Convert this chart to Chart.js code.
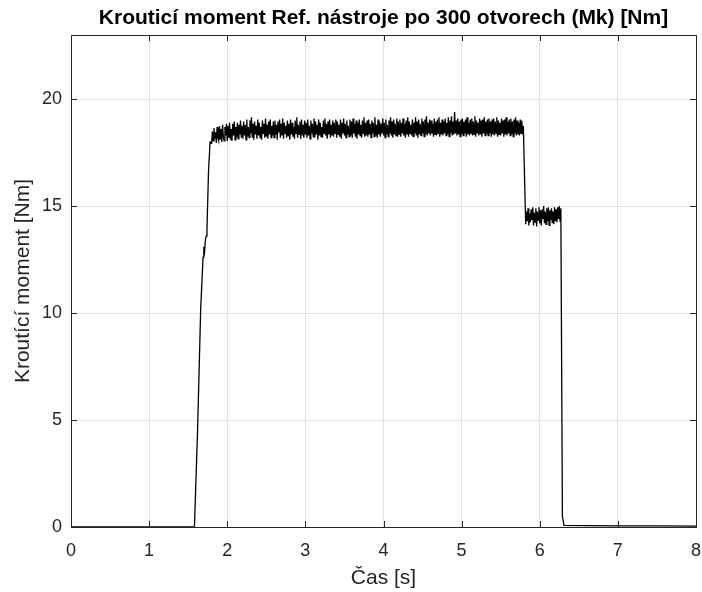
<!DOCTYPE html>
<html>
<head>
<meta charset="utf-8">
<script src="https://cdn.jsdelivr.net/npm/chart.js@4.4.1/dist/chart.umd.min.js"></script>
<style>
  html, body { margin: 0; padding: 0; background: #fff; }
  #wrap { width: 702px; height: 592px; }
</style>
</head>
<body>
<div id="wrap"><canvas id="torqueChart" width="702" height="592"></canvas></div>
<script>
var chartTitle = 'Krouticí moment Ref. nástroje po 300 otvorech (Mk) [Nm]';

// tick labels
var xTickValues = [0, 1, 2, 3, 4, 5, 6, 7, 8];
var yTickValues = [0, 5, 10, 15, 20];

// idle + spindle ramp-up
var riseTimes  = [0, 1.58, 1.62, 1.66, 1.69, 1.70, 1.71, 1.72, 1.73, 1.74, 1.76, 1.78];
var riseTorque = [0, 0, 4.5, 10.2, 12.6, 13.1, 12.9, 13.4, 13.6, 13.9, 16.6, 18.0];

// full cut, sampled every 0.01 s from 1.80 s
var sampleStep = 0.01;
var cutStart = 1.80;
var cutTorque = [
  17.95, 18.5, 18.05, 18.65, 18.15, 18.45, 17.95, 18.7, 18.2, 18.05, 18.75, 18.1, 18.6, 18.0, 18.8, 18.25, 18.05, 18.7, 18.3, 18.85,
  18.05, 18.75, 18.2, 18.9, 18.1, 18.6, 18.05, 18.85, 18.3, 18.95, 18.1, 18.7, 18.2, 18.9, 18.15, 18.8, 18.35, 19.0, 18.2, 18.75,
  18.15, 18.95, 18.3, 18.8, 18.1, 19.05, 18.25, 18.7, 18.2, 19.0, 18.4, 19.15, 18.2, 18.85, 18.1, 18.95, 18.35, 18.75, 18.15, 19.05,
  18.3, 18.9, 18.2, 18.7, 18.1, 19.0, 18.4, 18.85, 18.2, 19.1, 18.25, 18.8, 18.15, 18.95, 18.35, 19.05, 18.2, 18.75, 18.3, 18.95,
  18.2, 19.0, 18.35, 18.8, 18.1, 18.95, 18.45, 19.05, 18.2, 18.85, 18.3, 19.1, 18.15, 18.9, 18.4, 18.75, 18.2, 19.0, 18.3, 18.85,
  18.1, 19.05, 18.35, 18.9, 18.25, 18.7, 18.15, 19.0, 18.4, 19.15, 18.2, 18.8, 18.35, 18.95, 18.15, 19.05, 18.3, 18.8, 18.2, 19.0,
  18.35, 18.9, 18.2, 19.05, 18.3, 18.75, 18.15, 19.0, 18.4, 18.85, 18.25, 19.1, 18.2, 18.95, 18.35, 18.8, 18.1, 19.05, 18.3, 18.9,
  18.25, 18.7, 18.2, 19.0, 18.4, 19.1, 18.3, 18.85, 18.15, 18.95, 18.35, 19.05, 18.2, 18.8, 18.3, 19.0, 18.25, 18.9, 18.4, 19.05,
  18.2, 18.95, 18.35, 18.8, 18.25, 19.05, 18.15, 18.9, 18.4, 19.1, 18.3, 18.85, 18.2, 19.0, 18.35, 18.75, 18.25, 19.05, 18.3, 18.95,
  18.2, 19.1, 18.4, 18.85, 18.25, 19.0, 18.15, 18.9, 18.35, 19.05, 18.3, 18.8, 18.2, 19.0, 18.4, 19.15, 18.25, 18.9, 18.3, 19.0,
  18.25, 19.05, 18.35, 18.85, 18.2, 19.0, 18.4, 18.9, 18.25, 19.15, 18.3, 18.8, 18.2, 19.05, 18.35, 18.95, 18.25, 18.85, 18.4, 19.1,
  18.3, 18.9, 18.2, 19.05, 18.35, 18.8, 18.25, 19.0, 18.4, 19.15, 18.3, 18.95, 18.2, 19.05, 18.35, 18.85, 18.3, 19.1, 18.25, 18.95,
  18.35, 19.05, 18.25, 18.9, 18.4, 19.1, 18.3, 18.85, 18.2, 19.0, 18.35, 19.15, 18.25, 18.95, 18.4, 18.8, 18.3, 19.05, 18.25, 18.9,
  18.4, 19.15, 18.3, 18.95, 18.2, 19.05, 18.35, 18.85, 18.3, 19.1, 18.4, 18.95, 18.25, 19.05, 18.35, 19.2, 18.3, 18.9, 18.4, 19.05,
  18.3, 19.0, 18.4, 18.85, 18.25, 19.1, 18.35, 18.95, 18.3, 19.05, 18.4, 19.15, 18.25, 18.9, 18.35, 19.05, 18.3, 18.95, 18.4, 19.1,
  18.3, 18.9, 18.35, 19.15, 18.25, 19.0, 18.4, 19.2, 18.3, 18.95, 18.35, 19.4, 18.4, 19.0, 18.3, 19.1, 18.35, 18.95, 18.25, 19.05,
  18.35, 19.1, 18.3, 18.95, 18.4, 19.05, 18.25, 19.15, 18.35, 18.9, 18.3, 19.05, 18.4, 19.1, 18.3, 18.95, 18.35, 19.2, 18.25, 19.0,
  18.4, 18.9, 18.3, 19.1, 18.35, 19.0, 18.25, 19.05, 18.4, 19.15, 18.3, 18.95, 18.35, 19.05, 18.3, 19.1, 18.4, 18.95, 18.25, 19.05,
  18.35, 19.1, 18.3, 18.95, 18.4, 19.15, 18.25, 19.0, 18.35, 18.9, 18.3, 19.1, 18.4, 19.0, 18.25, 19.05, 18.35, 19.15, 18.3, 18.95,
  18.4, 19.05, 18.3, 19.1, 18.35, 18.95, 18.25, 19.05, 18.4, 19.15, 18.3, 19.0, 18.35, 18.9, 18.3, 19.05, 18.4, 19.0, 18.35, 18.75
];

// step down to the second diameter
var dropTimes  = [5.805];
var dropTorque = [16.4];

// second cut, sampled every 0.01 s from 5.82 s
var cut2Start = 5.82;
var cut2Torque = [
  14.15, 14.75, 14.3, 14.9, 14.1, 14.65, 14.25, 14.85, 14.35, 14.95, 14.1, 14.7, 14.25, 14.9, 14.05, 14.75, 14.35, 14.95, 14.2, 14.8,
  14.1, 14.85, 14.4, 15.0, 14.2, 14.75, 14.15, 14.9, 14.3, 14.95, 14.1, 14.8, 14.35, 14.9, 14.2, 14.75, 14.15, 14.95, 14.3, 14.85,
  14.25, 14.95, 14.4, 15.0, 14.3, 14.9
];

// retract
var tailTimes  = [6.29, 6.31, 6.6, 7.0, 7.5, 8.0];
var tailTorque = [0.5, 0.08, 0.06, 0.05, 0.05, 0.04];

var points = [];
riseTimes.forEach((t, i) => points.push({x: t, y: riseTorque[i]}));
cutTorque.forEach((v, i) => points.push({x: cutStart + i * sampleStep, y: v}));
dropTimes.forEach((t, i) => points.push({x: t, y: dropTorque[i]}));
cut2Torque.forEach((v, i) => points.push({x: cut2Start + i * sampleStep, y: v}));
tailTimes.forEach((t, i) => points.push({x: t, y: tailTorque[i]}));

var axisColor = '#262626';
var gridColor = '#e3e3e3';

// box around the axes, inward tick marks and the title over the plot area
const boxPlugin = {
  id: 'box',
  afterDatasetsDraw(chart) {
    const {ctx, chartArea: a, scales} = chart;
    ctx.save();
    ctx.strokeStyle = axisColor;
    ctx.lineWidth = 1;
    ctx.beginPath();
    xTickValues.forEach(v => {
      const px = Math.round(scales.x.getPixelForValue(v)) + 0.5;
      ctx.moveTo(px, a.bottom); ctx.lineTo(px, a.bottom - 6);
      ctx.moveTo(px, a.top); ctx.lineTo(px, a.top + 6);
    });
    yTickValues.forEach(v => {
      const py = Math.round(scales.y.getPixelForValue(v)) + 0.5;
      ctx.moveTo(a.left, py); ctx.lineTo(a.left + 6, py);
      ctx.moveTo(a.right, py); ctx.lineTo(a.right - 6, py);
    });
    ctx.stroke();
    ctx.strokeRect(Math.round(a.left) + 0.5, Math.round(a.top) + 0.5,
      Math.round(a.right - a.left), Math.round(a.bottom - a.top));

    ctx.fillStyle = '#000000';
    ctx.font = 'bold 21px "Liberation Sans"';
    ctx.textAlign = 'center';
    ctx.textBaseline = 'middle';
    ctx.fillText(chartTitle, (a.left + a.right) / 2, 18);
    ctx.restore();
  }
};

document.addEventListener('DOMContentLoaded', () => {
  var ctx = document.getElementById('torqueChart');
  new Chart(ctx, {
    type: 'line',
    data: {
      datasets: [{
        label: 'Mk',
        data: points,
        borderColor: '#000000',
        borderWidth: 1.3,
        pointRadius: 0,
        tension: 0,
        fill: false
      }]
    },
    options: {
      responsive: false,
      animation: false,
      events: [],
      layout: { padding: { left: 0, right: 6, top: 35, bottom: 0 } },
      scales: {
        x: {
          type: 'linear',
          min: 0,
          max: 8,
          afterBuildTicks: (s) => { s.ticks = xTickValues.map(v => ({value: v})); },
          afterFit: (s) => { s.height = 65; s.paddingLeft = 0; s.paddingRight = 0; },
          grid: { color: gridColor, drawTicks: false },
          border: { display: false },
          ticks: { color: axisColor, padding: 13, font: { family: 'Liberation Sans', size: 18 } },
          title: {
            display: true,
            text: 'Čas [s]',
            color: axisColor,
            padding: { top: 0, bottom: 1.5 },
            font: { family: 'Liberation Sans', size: 21 }
          }
        },
        y: {
          min: 0,
          max: 23,
          afterBuildTicks: (s) => { s.ticks = yTickValues.map(v => ({value: v})); },
          afterFit: (s) => { s.width = 71; s.paddingTop = 0; s.paddingBottom = 0; },
          grid: { color: gridColor, drawTicks: false },
          border: { display: false },
          ticks: { color: axisColor, padding: 9, font: { family: 'Liberation Sans', size: 18 } },
          title: {
            display: true,
            text: 'Kroutící moment [Nm]',
            color: axisColor,
            padding: { top: 10.5, bottom: 0 },
            font: { family: 'Liberation Sans', size: 21 }
          }
        }
      },
      plugins: {
        legend: { display: false },
        tooltip: { enabled: false },
        title: { display: false }
      }
    },
    plugins: [boxPlugin]
  });
});
</script>
</body>
</html>
